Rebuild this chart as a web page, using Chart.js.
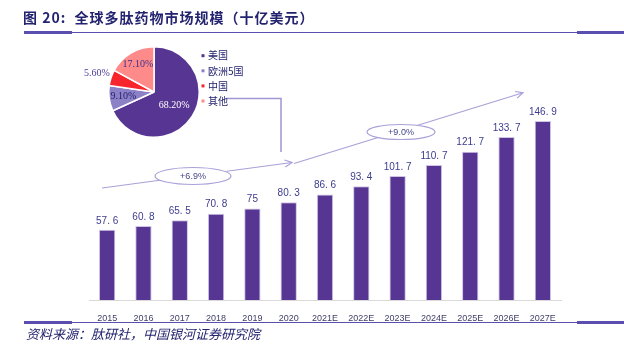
<!DOCTYPE html>
<html>
<head>
<meta charset="utf-8">
<script src="https://cdn.jsdelivr.net/npm/chart.js@4"></script>
<style>
  body { margin: 0; background: #fff; }
  #wrap { position: relative; width: 624px; height: 345px; }
  #barChart { position: absolute; left: 0; top: 0; }
  #pieChart { position: absolute; left: 60px; top: 40px; }
</style>
</head>
<body>
<div id="wrap">
  <canvas id="barChart" width="624" height="345"></canvas>
  <canvas id="pieChart" width="200" height="110"></canvas>
</div>
<script>
const years = ['2015', '2016', '2017', '2018', '2019', '2020', '2021E', '2022E', '2023E', '2024E', '2025E', '2026E', '2027E'];
const marketSize = [57.6, 60.8, 65.5, 70.8, 75, 80.3, 86.6, 93.4, 101.7, 110.7, 121.7, 133.7, 146.9];
const regions = ['美国', '欧洲5国', '中国', '其他'];
const regionShare = [68.2, 9.1, 5.6, 17.1];
const growthRates = ['+6.9%', '+9.0%'];

const titleText = '图 20:  全球多肽药物市场规模（十亿美元）';
const sourceText = '资料来源：肽研社，中国银河证券研究院';

const PURPLE = '#573592';
const LAVENDER = '#a9a1d8';
const NAVY = '#23236f';
const pieColors = [PURPLE, '#8c81c6', '#f7262c', '#ff8a8a'];

const narrow = "'Liberation Sans Narrow', 'Liberation Sans', sans-serif";
const cjk = "'Noto Sans CJK SC', sans-serif";

// page frame: title, rules, source line
const framePlugin = {
    id: 'frame',
    beforeDraw(chart) {
        const ctx = chart.ctx;
        ctx.save();
        ctx.fillStyle = NAVY;
        ctx.font = `bold 14px ${cjk}`;
        ctx.textBaseline = 'middle';
        ctx.letterSpacing = '1px';
        ctx.fillText(titleText, 23, 18);
        ctx.letterSpacing = '0px';

        ctx.strokeStyle = '#5a4fae';
        [32.5, 322.5].forEach(y => {
            ctx.lineWidth = 1.2;
            ctx.beginPath(); ctx.moveTo(24, y); ctx.lineTo(623, y); ctx.stroke();
            ctx.lineWidth = 3;
            ctx.beginPath(); ctx.moveTo(24, y); ctx.lineTo(72, y); ctx.stroke();
            ctx.beginPath(); ctx.moveTo(577, y); ctx.lineTo(624, y); ctx.stroke();
        });

        ctx.font = `italic 13px ${cjk}`;
        ctx.fillStyle = NAVY;
        ctx.fillText(sourceText, 26, 334);
        ctx.restore();
    }
};

function arrowHead(ctx, x0, y0, x1, y1) {
    const a = Math.atan2(y1 - y0, x1 - x0);
    const len = 8, spread = 0.45;
    ctx.beginPath();
    ctx.moveTo(x1 - len * Math.cos(a - spread), y1 - len * Math.sin(a - spread));
    ctx.lineTo(x1, y1);
    ctx.lineTo(x1 - len * Math.cos(a + spread), y1 - len * Math.sin(a + spread));
    ctx.stroke();
}

function bubble(ctx, cx, cy, w, h, text) {
    ctx.beginPath();
    ctx.ellipse(cx, cy, w / 2, h / 2, 0, 0, Math.PI * 2);
    ctx.fillStyle = '#fff';
    ctx.fill();
    ctx.stroke();
    ctx.fillStyle = '#45458a';
    ctx.font = `9px 'Liberation Sans', sans-serif`;
    ctx.textAlign = 'center';
    ctx.textBaseline = 'middle';
    ctx.fillText(text, cx, cy + 0.5);
}

const overlayPlugin = {
    id: 'overlay',
    afterDatasetsDraw(chart) {
        const ctx = chart.ctx;
        const meta = chart.getDatasetMeta(0);
        ctx.save();
        // value labels
        ctx.fillStyle = '#3c3c8e';
        ctx.font = `10px ${narrow}`;
        ctx.textAlign = 'center';
        ctx.textBaseline = 'bottom';
        meta.data.forEach((bar, i) => {
            ctx.fillText(String(marketSize[i]).replace('.', '. '), bar.x, bar.y - 4);
        });

        // growth arrows
        ctx.strokeStyle = LAVENDER;
        ctx.lineWidth = 1.2;
        ctx.beginPath(); ctx.moveTo(102, 188); ctx.lineTo(292, 162.5); ctx.stroke();
        arrowHead(ctx, 102, 188, 292, 162.5);
        bubble(ctx, 193, 176, 76, 17, growthRates[0]);

        ctx.beginPath(); ctx.moveTo(294, 163.5); ctx.lineTo(523, 92.7); ctx.stroke();
        arrowHead(ctx, 294, 163.5, 523, 92.7);
        bubble(ctx, 401, 132, 68, 15, growthRates[1]);

        // connector from pie legend
        ctx.strokeStyle = '#9f97d4';
        ctx.lineWidth = 1.5;
        ctx.beginPath(); ctx.moveTo(227, 98.5); ctx.lineTo(281, 98.5); ctx.lineTo(281, 152); ctx.stroke();
        ctx.restore();
    }
};

new Chart(document.getElementById('barChart'), {
    type: 'bar',
    data: {
        labels: years,
        datasets: [{
            data: marketSize,
            backgroundColor: PURPLE,
            borderColor: '#cdc4e6',
            borderWidth: 1,
            categoryPercentage: 0.9,
            barPercentage: 0.5
        }]
    },
    options: {
        responsive: false,
        devicePixelRatio: 1,
        animation: false,
        layout: { padding: { left: 89, right: 63, top: 105, bottom: 0 } },
        plugins: { legend: { display: false }, tooltip: { enabled: false } },
        scales: {
            x: {
                grid: { display: false },
                border: { display: true, color: '#d9d9d9', width: 1 },
                ticks: { color: '#3f3f66', font: { family: narrow, size: 9 }, padding: 5, maxRotation: 0 },
                afterFit: s => { s.height = 45; }
            },
            y: { display: false, min: 0, max: 160 }
        }
    },
    plugins: [framePlugin, overlayPlugin]
});

// pie: labels + legend
const pieLabelPlugin = {
    id: 'pieLabels',
    afterDatasetsDraw(chart) {
        const ctx = chart.ctx;
        const meta = chart.getDatasetMeta(0);
        const factors = [0.53, 0.68, 1.33, 0.7];
        const colors = ['#ffffff', NAVY, '#4a3d9c', '#3a2f8a'];
        ctx.save();
        ctx.font = `10px 'Liberation Serif', serif`;
        ctx.textAlign = 'center';
        ctx.textBaseline = 'middle';
        meta.data.forEach((arc, i) => {
            const mid = (arc.startAngle + arc.endAngle) / 2;
            const r = arc.outerRadius * factors[i];
            ctx.fillStyle = colors[i];
            ctx.fillText(regionShare[i].toFixed(2) + '%', arc.x + r * Math.cos(mid), arc.y + r * Math.sin(mid));
        });
        // legend
        ctx.textAlign = 'left';
        ctx.font = `10px ${cjk}`;
        regions.forEach((name, i) => {
            const y = 15.7 + i * 15.1;
            ctx.fillStyle = pieColors[i];
            ctx.fillRect(141.5, y - 1.5, 3, 3);
            ctx.fillStyle = NAVY;
            ctx.fillText(name, 148, y);
        });
        ctx.restore();
    }
};

new Chart(document.getElementById('pieChart'), {
    type: 'pie',
    data: {
        labels: regions,
        datasets: [{
            data: regionShare,
            backgroundColor: pieColors,
            borderColor: '#ffffff',
            borderWidth: 1.5
        }]
    },
    options: {
        responsive: false,
        devicePixelRatio: 1,
        animation: false,
        layout: { padding: { left: 48, right: 60, top: 6, bottom: 12 } },
        plugins: { legend: { display: false }, tooltip: { enabled: false } }
    },
    plugins: [pieLabelPlugin]
});
</script>
</body>
</html>
